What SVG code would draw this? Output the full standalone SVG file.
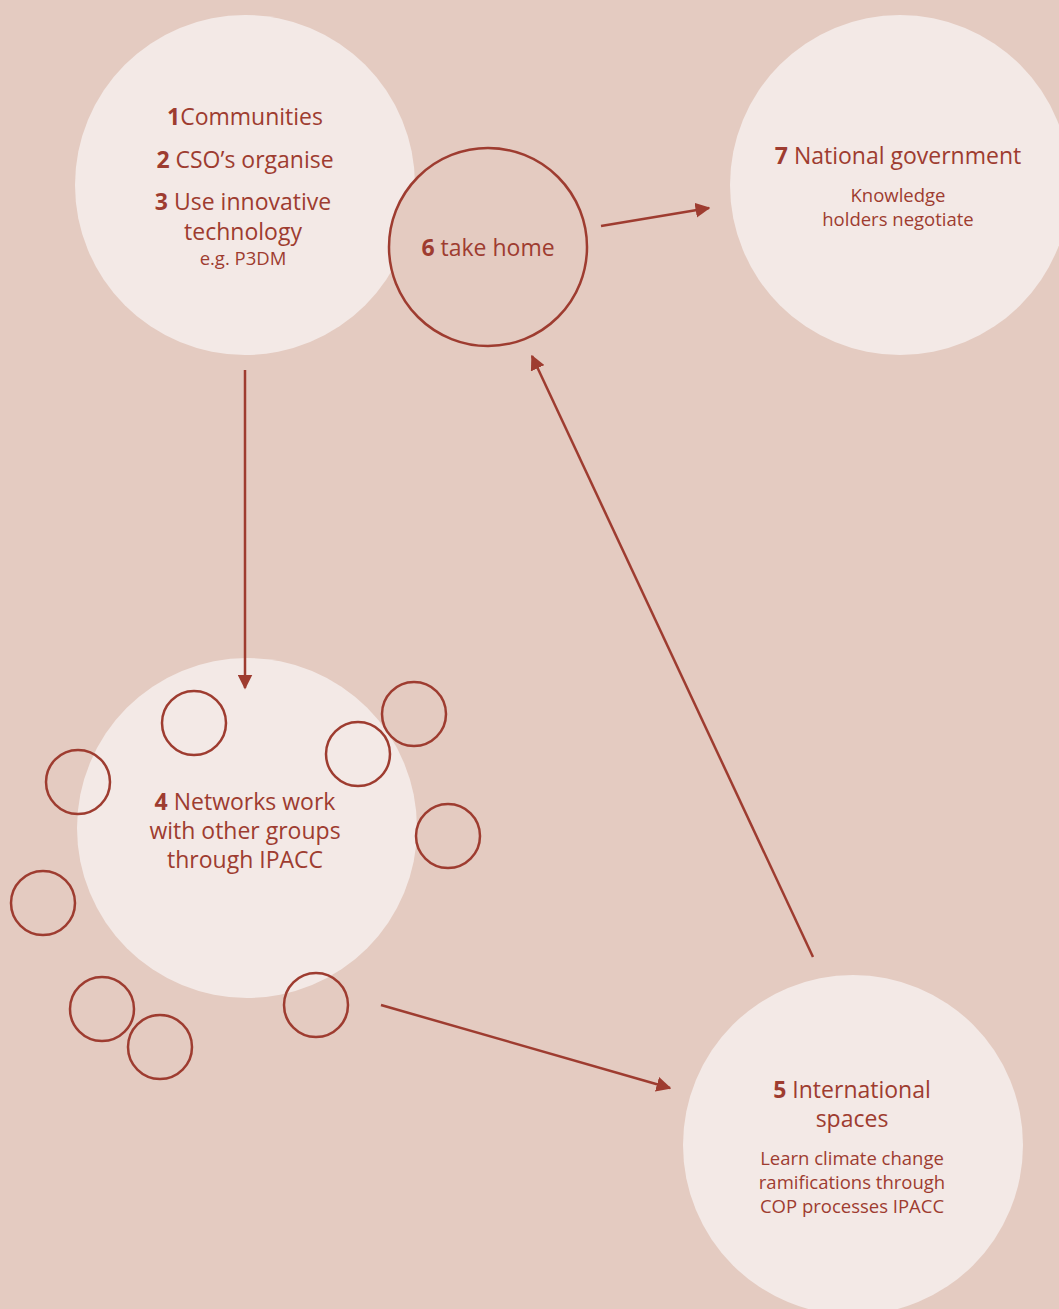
<svg xmlns="http://www.w3.org/2000/svg" width="1059" height="1309" viewBox="0 0 1059 1309">
  <defs>
    <marker id="head" viewBox="0 0 10 10" refX="9" refY="5" markerWidth="6" markerHeight="6" orient="auto" markerUnits="strokeWidth">
      <path d="M0,0 L10,5 L0,10 Z" fill="#9e3c30"/>
    </marker>
  </defs>
  <style>
    .big { fill: #f3e9e6; }
    .ring { fill: none; stroke: #9e3c30; stroke-width: 2.5; }
    .hub { fill: #e4cbc1; stroke: #9e3c30; stroke-width: 2.5; }
    text { font-family: "Open Sans", "Noto Sans", "Liberation Sans", sans-serif; fill: #9e3c30; text-anchor: middle; }
    .t { font-size: 23px; }
    .s { font-size: 18.5px; }
    .b { font-weight: 700; }
    .edge { stroke: #9e3c30; stroke-width: 2.5; fill: none; marker-end: url(#head); }
  </style>

  <rect width="1059" height="1309" fill="#e4cbc1"/>

  <g id="node-communities">
    <circle class="big" cx="245" cy="185" r="170"/>
    <text class="t" x="245" y="125"><tspan class="b">1</tspan>Communities</text>
    <text class="t" x="245" y="168"><tspan class="b">2</tspan> CSO’s organise</text>
    <text class="t" x="243" y="210"><tspan class="b">3</tspan> Use innovative</text>
    <text class="t" x="243" y="240">technology</text>
    <text class="s" x="243" y="265">e.g. P3DM</text>
  </g>

  <g id="node-take-home">
    <circle class="hub" cx="488" cy="247" r="99"/>
    <text class="t" x="488" y="256"><tspan class="b">6</tspan> take home</text>
  </g>

  <g id="node-national">
    <circle class="big" cx="900" cy="185" r="170"/>
    <text class="t" x="898" y="164"><tspan class="b">7</tspan> National government</text>
    <text class="s" x="898" y="202">Knowledge</text>
    <text class="s" x="898" y="226">holders negotiate</text>
  </g>

  <g id="node-networks">
    <circle class="big" cx="247" cy="828" r="170"/>
    <text class="t" x="245" y="810"><tspan class="b">4</tspan> Networks work</text>
    <text class="t" x="245" y="839">with other groups</text>
    <text class="t" x="245" y="868">through IPACC</text>
    <g id="groups">
      <circle class="ring" cx="194" cy="723" r="32"/>
      <circle class="ring" cx="414" cy="714" r="32"/>
      <circle class="ring" cx="358" cy="754" r="32"/>
      <circle class="ring" cx="78" cy="782" r="32"/>
      <circle class="ring" cx="448" cy="836" r="32"/>
      <circle class="ring" cx="43" cy="903" r="32"/>
      <circle class="ring" cx="316" cy="1005" r="32"/>
      <circle class="ring" cx="102" cy="1009" r="32"/>
      <circle class="ring" cx="160" cy="1047" r="32"/>
    </g>
  </g>

  <g id="node-international">
    <circle class="big" cx="853" cy="1145" r="170"/>
    <text class="t" x="852" y="1098"><tspan class="b">5</tspan> International</text>
    <text class="t" x="852" y="1127">spaces</text>
    <text class="s" x="852" y="1165">Learn climate change</text>
    <text class="s" x="852" y="1189">ramifications through</text>
    <text class="s" x="852" y="1213">COP processes IPACC</text>
  </g>

  <g id="connectors">
    <line class="edge" x1="245" y1="370" x2="245" y2="688"/>
    <line class="edge" x1="601" y1="226" x2="709" y2="208"/>
    <line class="edge" x1="381" y1="1005" x2="670" y2="1088"/>
    <line class="edge" x1="813" y1="957" x2="532" y2="356"/>
  </g>
</svg>
